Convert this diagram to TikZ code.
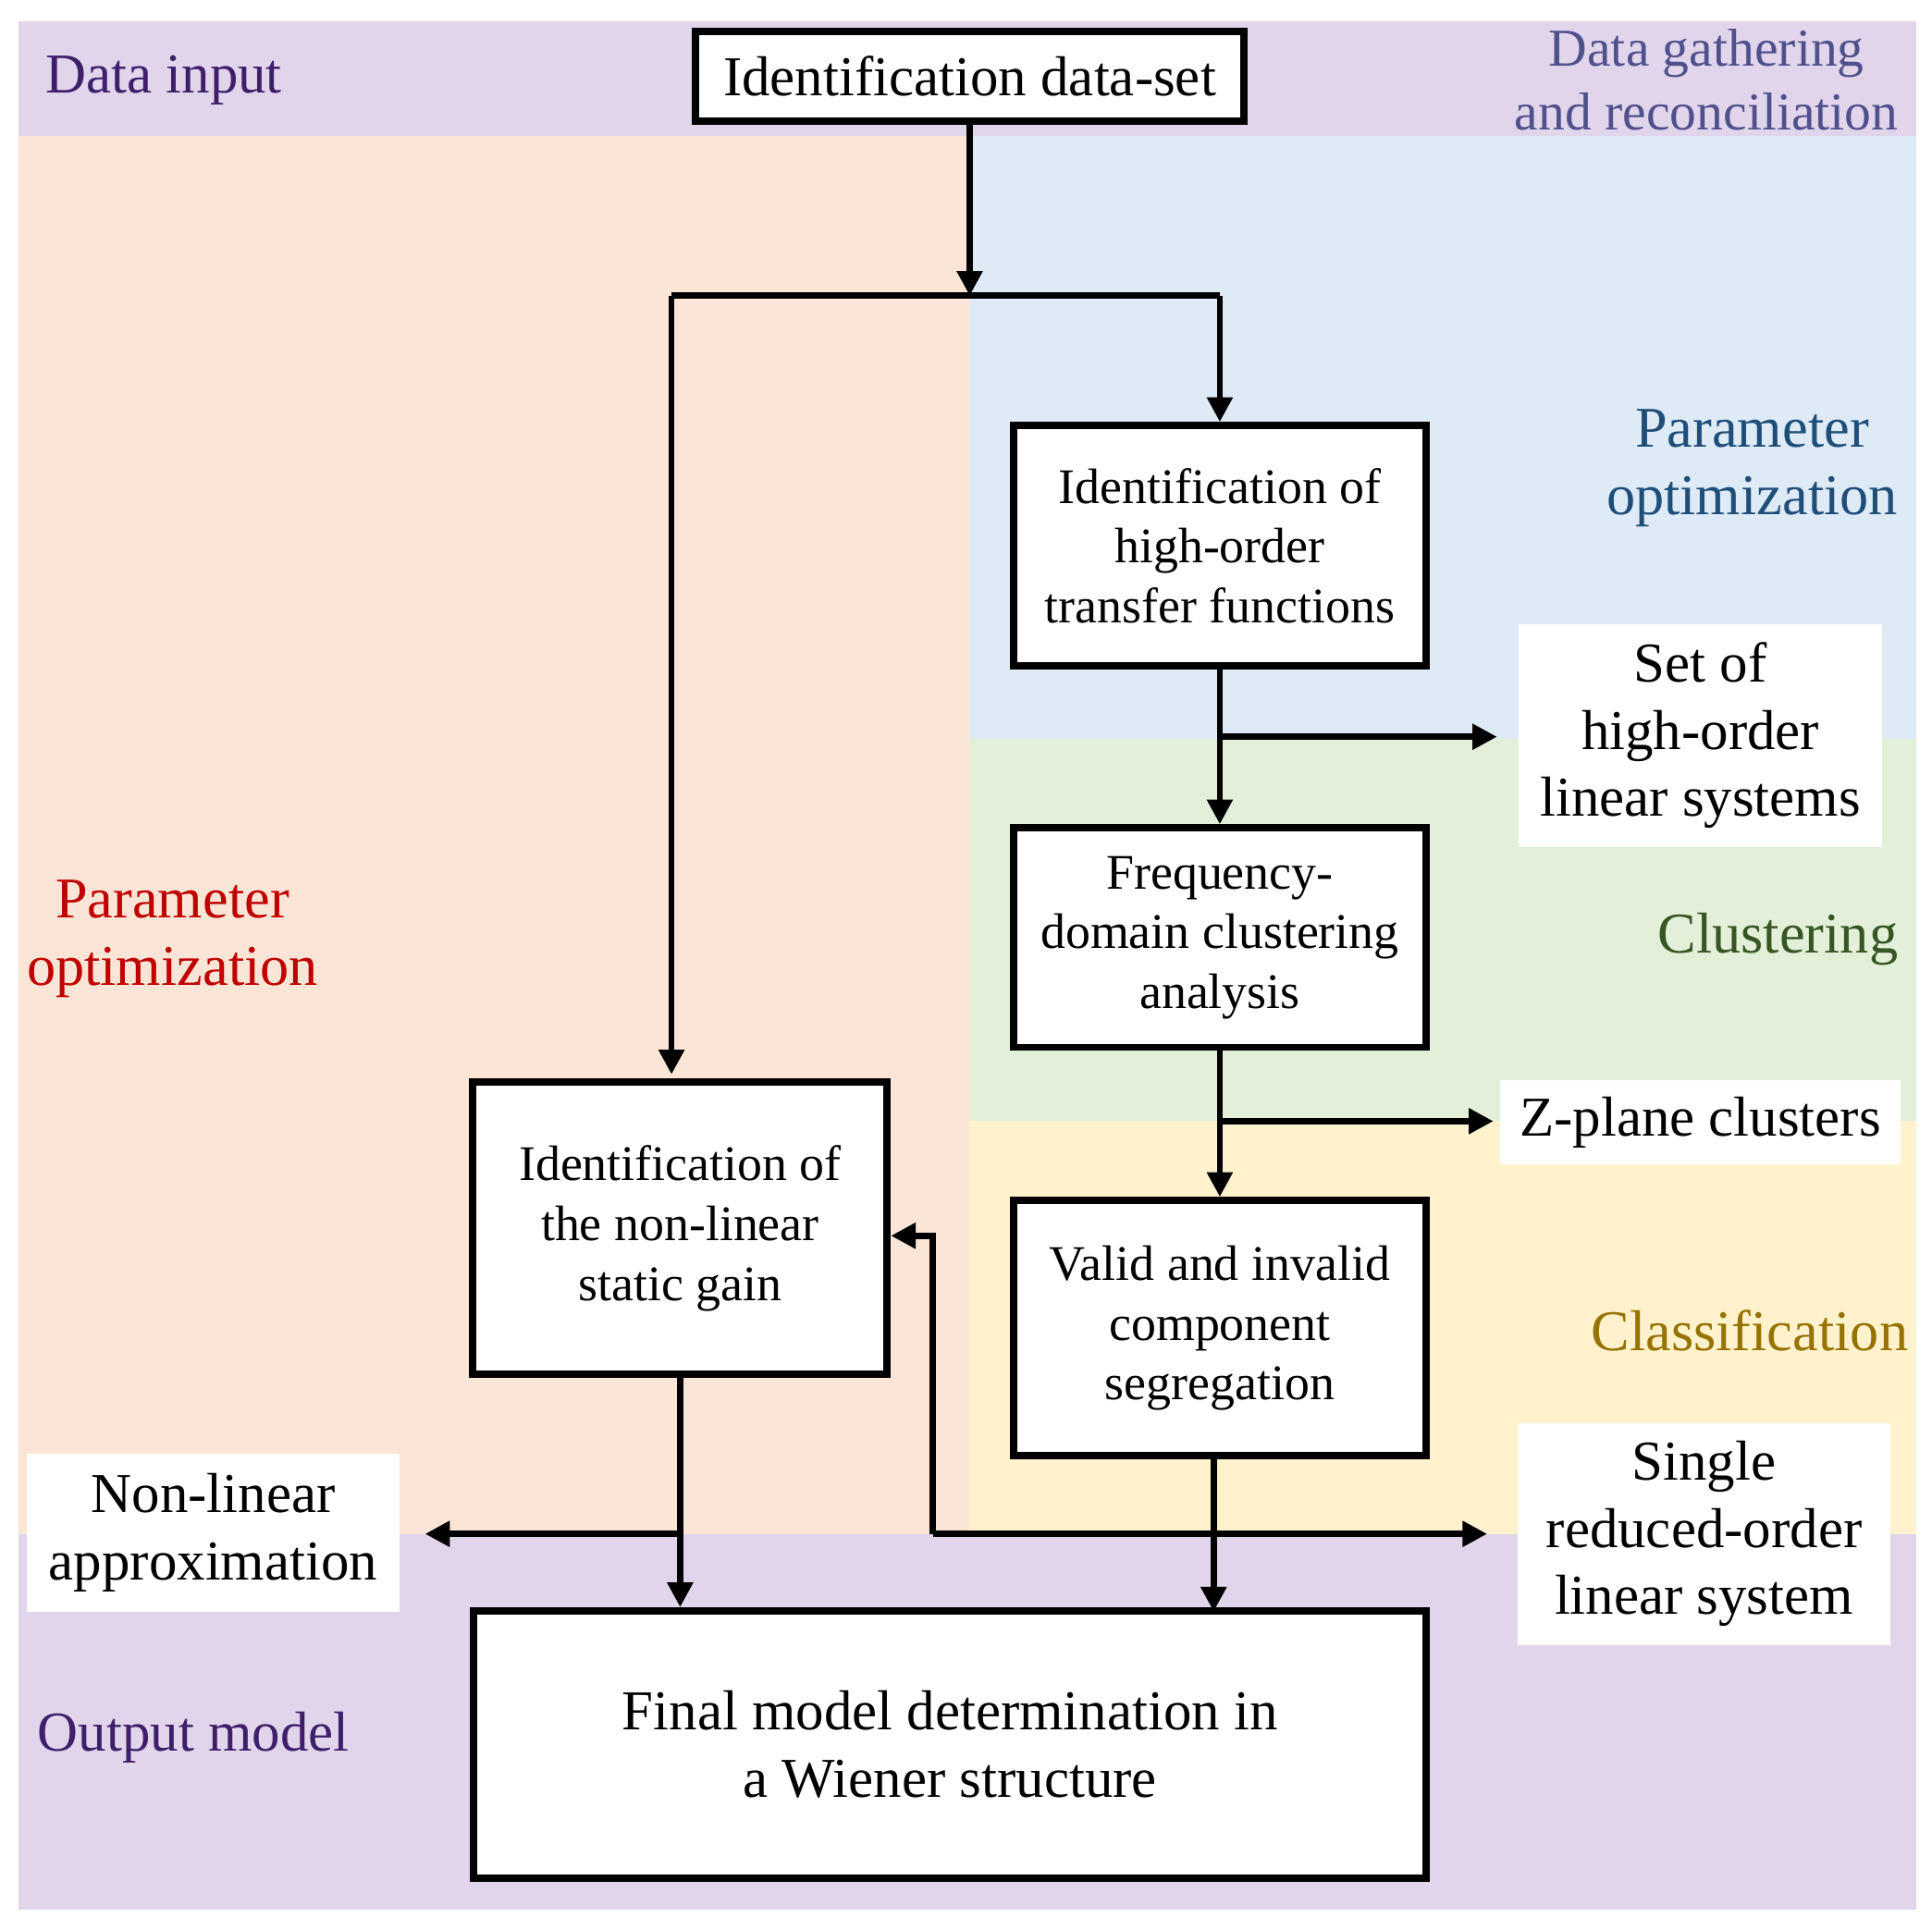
\documentclass[tikz,border=0pt]{standalone}
\usepackage{fontspec}
\setmainfont{Liberation Serif}
\usetikzlibrary{arrows.meta}
\definecolor{lav}{HTML}{E1D5EB}
\definecolor{ora}{HTML}{FBE5D6}
\definecolor{blu}{HTML}{DEEBF7}
\definecolor{gre}{HTML}{E2F0D9}
\definecolor{yel}{HTML}{FFF2CC}
\begin{document}
\begin{tikzpicture}[x=0.01cm,y=-0.01cm,
 box/.style={draw,line width=1.7pt,fill=white,align=center,inner sep=0pt,font=\fontsize{11.5}{13.8}\selectfont},
 wl/.style={fill=white,align=center,inner sep=0pt,font=\fontsize{13}{15.5}\selectfont},
 lab/.style={align=center,font=\fontsize{13}{15.5}\selectfont},
 big/.style={align=center,font=\fontsize{13.3}{15.5}\selectfont},
 ar/.style={line width=1.4pt,-{Triangle[length=0.2cm,width=0.2cm]}},
 ln/.style={line width=1.4pt}]
\useasboundingbox (0,0) rectangle (1568,1566);
\fill[lav] (15,17) rectangle (1555,110);
\fill[ora] (15,110) rectangle (787,1245);
\fill[blu] (787,110) rectangle (1555,600);
\fill[gre] (787,600) rectangle (1555,910);
\fill[yel] (787,910) rectangle (1555,1245);
\fill[lav] (15,1245) rectangle (1555,1550);
% labels
\node[lab,text={rgb,255:red,63;green,31;blue,107}] (l1) at (133,65) {Data input};
\node[lab,text={rgb,255:red,80;green,80;blue,140},font=\fontsize{12.3}{14.8}\selectfont] (l2) at (1385,65) {Data gathering\\and reconciliation};
\node[big,text={rgb,255:red,31;green,78;blue,121}] (l3) at (1422,380) {Parameter\\optimization};
\node[big,text={rgb,255:red,55;green,86;blue,35}] (l4) at (1443,762) {Clustering};
\node[big,text={rgb,255:red,150;green,115;blue,0}] (l5) at (1420,1080) {Classification};
\node[big,text={rgb,255:red,192;green,0;blue,0}] (l6) at (140,762) {Parameter\\optimization};
\node[lab,text={rgb,255:red,63;green,31;blue,107}] (l7) at (157,1410) {Output model};
% white labels
\node[wl,minimum width=2.95cm,minimum height=1.81cm] (s1) at (1380,597) {Set of\\high-order\\linear systems};
\node[wl,minimum width=3.25cm,minimum height=0.68cm] (s2) at (1380,911) {Z-plane clusters};
\node[wl,minimum width=3.03cm,minimum height=1.80cm] (s3) at (1383,1245) {Single\\reduced-order\\linear system};
\node[wl,minimum width=3.03cm,minimum height=1.28cm] (s4) at (173,1244) {Non-linear\\approximation};
% boxes
\node[box,minimum width=4.45cm,minimum height=0.73cm,font=\fontsize{13}{15.5}\selectfont] (ds) at (787,62) {Identification data-set};
\node[box,minimum width=3.35cm,minimum height=1.95cm] (tf) at (990,443) {Identification of\\high-order\\transfer functions};
\node[box,minimum width=3.35cm,minimum height=1.78cm] (fr) at (990,761) {Frequency-\\domain clustering\\analysis};
\node[box,minimum width=3.35cm,minimum height=2.07cm] (va) at (990,1078) {Valid and invalid\\component\\segregation};
\node[box,minimum width=3.36cm,minimum height=2.37cm] (ga) at (552,997) {Identification of\\the non-linear\\static gain};
\node[box,minimum width=7.73cm,minimum height=2.17cm,font=\fontsize{13}{15.5}\selectfont] (fi) at (771,1416) {Final model determination in\\a Wiener structure};
% connectors
\coordinate (j0) at (787,240);
\coordinate (jl) at (545,240);
\coordinate (jr) at (990,240);
\draw[ar] (ds.south) -- (j0);
\draw[ln] (jl) -- (jr);
\draw[ar] (jl) -- (545,872);
\draw[ar] (jr) -- (tf.north);
\coordinate (b1) at (990,598);
\draw[ar] (tf.south) -- (fr.north);
\draw[ar] (b1) -- (1215,598);
\coordinate (b2) at (990,910);
\draw[ar] (fr.south) -- (va.north);
\draw[ar] (b2) -- (1212,910);
\coordinate (b3) at (757,1245);
\draw[ar] (985,1182) -- (985,1308);
\draw[ar] (b3) -- (1207,1245);
\draw[ar] (b3) -- (757,1003) -- (ga.east |- 0,1003);
\coordinate (b4) at (552,1245);
\draw[ar] (ga.south) -- (fi.north -| ga.south);
\draw[ar] (b4) -- (345,1245);
\end{tikzpicture}
\end{document}
